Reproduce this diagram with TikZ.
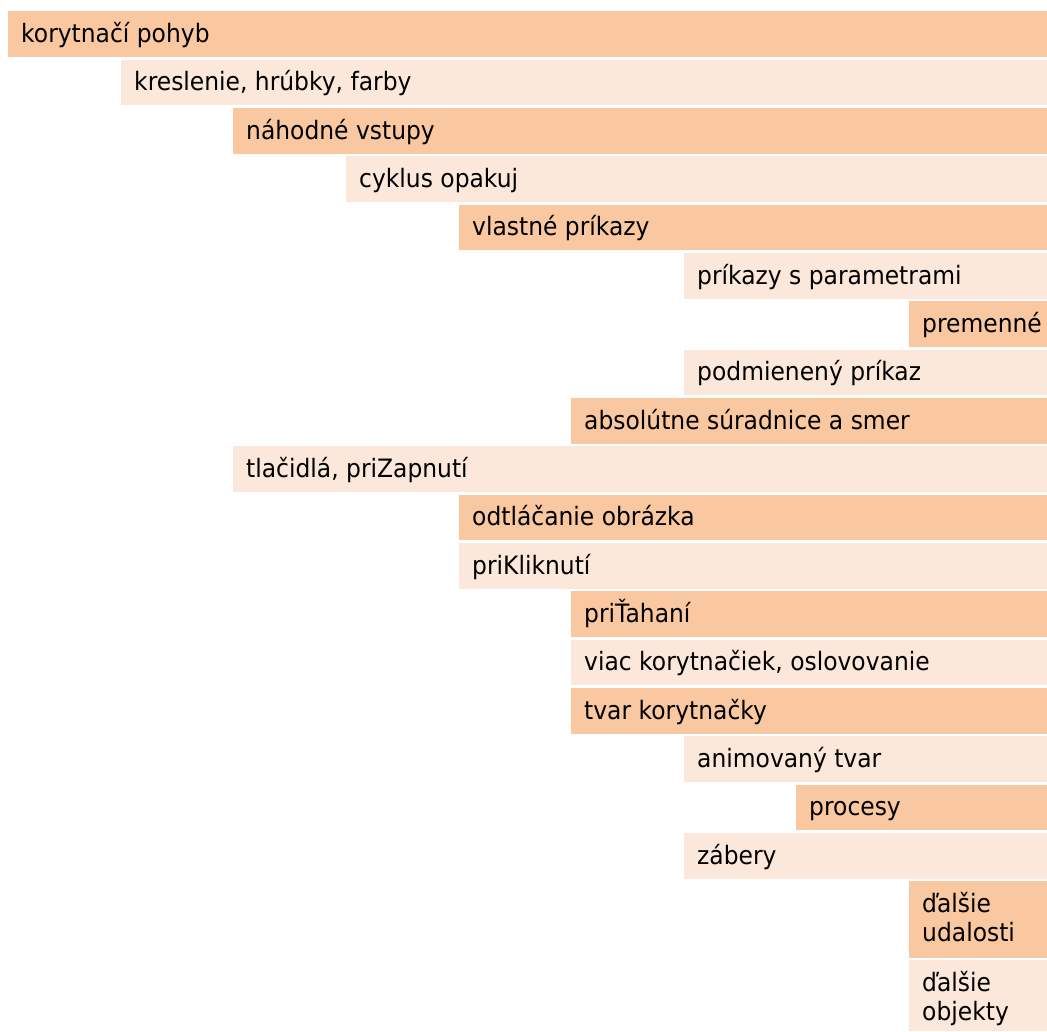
\documentclass[tikz,border=0pt]{standalone}
\usepackage{fontspec}
\setmainfont{DejaVu Sans}[FakeStretch=0.925]
\definecolor{darkrow}{HTML}{FAC8A0}
\definecolor{lightrow}{HTML}{FCE8DA}
\tikzset{
  rowbox/.style={anchor=north west, inner sep=0pt, draw=none, rectangle},
  rowdark/.style={rowbox, fill=darkrow},
  rowlight/.style={rowbox, fill=lightrow},
  rowtext/.style={anchor=base west, inner sep=0pt, text=black,
    font=\fontsize{25.3pt}{29.4pt}\selectfont},
}
\newcommand\rowitem[6]{% name, style, left, top, height, text
  \node[#2, minimum width={(1047-#3)*1pt}, minimum height={#5*1pt}] (#1) at (#3pt,-#4pt) {};
  \node[rowtext] (#1t) at ([xshift=13pt,yshift=-31.5pt]#1.north west) {#6};
}
\newcommand\rowitemtwo[7]{% name, style, left, top, height, line1, line2
  \node[#2, minimum width={(1047-#3)*1pt}, minimum height={#5*1pt}] (#1) at (#3pt,-#4pt) {};
  \node[rowtext] (#1t) at ([xshift=13pt,yshift=-31.5pt]#1.north west) {#6};
  \node[rowtext] (#1u) at ([yshift=-29.4pt]#1t.base west) {#7};
}
\begin{document}
\begin{tikzpicture}
\useasboundingbox (0,0) rectangle (1047pt,-1031pt);
\rowitem{r1}{rowdark}{8}{11}{45.7}{korytnačí pohyb}
\rowitem{r2}{rowlight}{121}{59.33}{45.7}{kreslenie, hrúbky, farby}
\rowitem{r3}{rowdark}{233}{107.66}{45.7}{náhodné vstupy}
\rowitem{r4}{rowlight}{346}{156}{45.7}{cyklus opakuj}
\rowitem{r5}{rowdark}{459}{204.33}{45.7}{vlastné príkazy}
\rowitem{r6}{rowlight}{684}{252.66}{45.7}{príkazy s parametrami}
\rowitem{r7}{rowdark}{909}{301}{45.7}{premenné}
\rowitem{r8}{rowlight}{684}{349.33}{45.7}{podmienený príkaz}
\rowitem{r9}{rowdark}{571}{397.66}{45.7}{absolútne súradnice a smer}
\rowitem{r10}{rowlight}{233}{446}{45.7}{tlačidlá, priZapnutí}
\rowitem{r11}{rowdark}{459}{494.33}{45.7}{odtláčanie obrázka}
\rowitem{r12}{rowlight}{459}{542.66}{45.7}{priKliknutí}
\rowitem{r13}{rowdark}{571}{591}{45.7}{priŤahaní}
\rowitem{r14}{rowlight}{571}{639.33}{45.7}{viac korytnačiek, oslovovanie}
\rowitem{r15}{rowdark}{571}{687.66}{45.7}{tvar korytnačky}
\rowitem{r16}{rowlight}{684}{736}{45.7}{animovaný tvar}
\rowitem{r17}{rowdark}{796}{784.33}{45.7}{procesy}
\rowitem{r18}{rowlight}{684}{832.66}{45.7}{zábery}
\rowitemtwo{r19}{rowdark}{909}{881}{76.7}{ďalšie}{udalosti}
\rowitemtwo{r20}{rowlight}{909}{960}{71}{ďalšie}{objekty}
\end{tikzpicture}
\end{document}
